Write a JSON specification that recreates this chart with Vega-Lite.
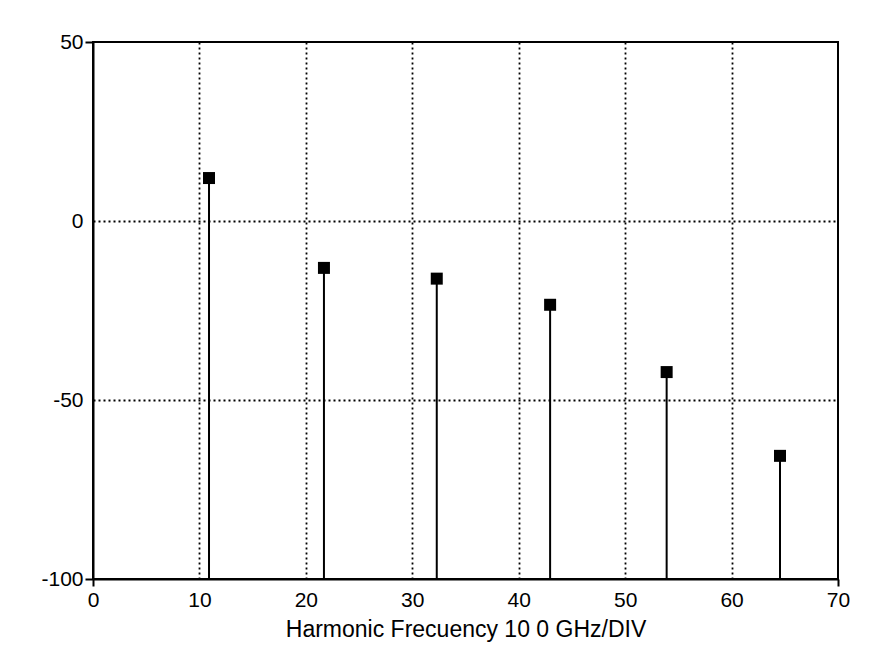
{
  "$schema": "https://vega.github.io/schema/vega-lite/v6.json",
  "width": 745,
  "height": 537,
  "autosize": {"type": "none"},
  "padding": {"left": 93, "top": 42, "right": 45, "bottom": 78},
  "background": "white",
  "config": {
    "view": {"stroke": "black", "strokeWidth": 2},
    "font": "Liberation Sans"
  },
  "data": {
    "values": [
      {"freq": 10.9, "level": 12.0},
      {"freq": 21.7, "level": -13.1},
      {"freq": 32.3, "level": -16.1},
      {"freq": 42.95, "level": -23.4},
      {"freq": 53.9, "level": -42.2},
      {"freq": 64.55, "level": -65.6}
    ]
  },
  "encoding": {
    "x": {
      "field": "freq",
      "type": "quantitative",
      "scale": {"domain": [0, 70], "nice": false, "zero": false},
      "axis": {
        "title": "Harmonic Frecuency 10 0 GHz/DIV",
        "values": [0, 10, 20, 30, 40, 50, 60, 70],
        "labelFlush": false,
        "labelFont": "Liberation Sans",
        "labelFontSize": 21,
        "labelColor": "black",
        "labelPadding": 3,
        "tickSize": 7,
        "tickWidth": 2,
        "tickColor": {"condition": {"test": "datum.value == 0 || datum.value == 70", "value": "black"}, "value": "transparent"},
        "domainColor": "black",
        "domainWidth": 2,
        "grid": true,
        "gridColor": {"condition": {"test": "datum.value == 0 || datum.value == 70", "value": "transparent"}, "value": "black"},
        "gridDash": [2, 3],
        "gridWidth": 1.8,
        "gridOpacity": 1,
        "titleFont": "Liberation Sans",
        "titleFontSize": 23,
        "titleFontWeight": "normal",
        "titleColor": "black",
        "titlePadding": 8
      }
    },
    "y": {
      "field": "level",
      "type": "quantitative",
      "scale": {"domain": [-100, 50], "nice": false, "zero": false},
      "axis": {
        "title": null,
        "values": [-100, -50, 0, 50],
        "labelExpr": "'' + datum.value",
        "labelFont": "Liberation Sans",
        "labelFontSize": 21,
        "labelColor": "black",
        "labelPadding": 2,
        "labelFlush": false,
        "tickSize": 8,
        "tickWidth": 2,
        "tickColor": {"condition": {"test": "datum.value == 50 || datum.value == -100", "value": "black"}, "value": "transparent"},
        "domainColor": "black",
        "domainWidth": 2,
        "grid": true,
        "gridColor": {"condition": {"test": "datum.value == 50 || datum.value == -100", "value": "transparent"}, "value": "black"},
        "gridDash": [2, 3],
        "gridWidth": 1.8,
        "gridOpacity": 1
      }
    }
  },
  "layer": [
    {
      "mark": {"type": "rule", "color": "black", "strokeWidth": 2},
      "encoding": {"y2": {"datum": -100}}
    },
    {
      "mark": {"type": "square", "filled": true, "color": "black", "opacity": 1, "size": 144}
    }
  ]
}
